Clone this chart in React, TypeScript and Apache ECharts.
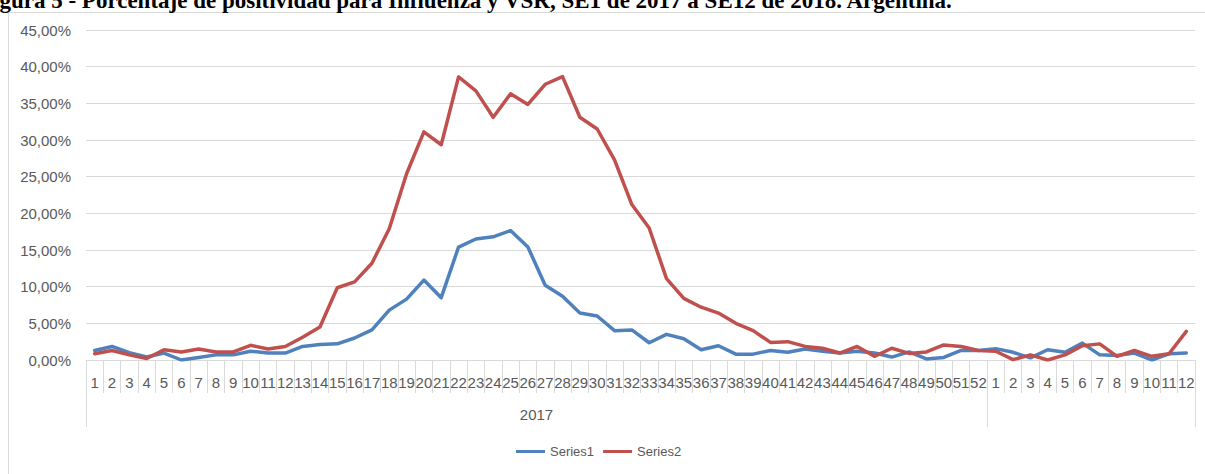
import React, { useEffect, useRef } from "react";
import * as echarts from "echarts";

const titleText =
  "Figura 5 - Porcentaje de positividad para Influenza y VSR, SE1 de 2017 a SE12 de 2018. Argentina.";

const weeks = [
  "1", "2", "3", "4", "5", "6", "7", "8", "9", "10", "11", "12", "13", "14", "15", "16", "17", "18", "19", "20",
  "21", "22", "23", "24", "25", "26", "27", "28", "29", "30", "31", "32", "33", "34", "35", "36", "37", "38", "39", "40",
  "41", "42", "43", "44", "45", "46", "47", "48", "49", "50", "51", "52",
  "1", "2", "3", "4", "5", "6", "7", "8", "9", "10", "11", "12",
];

const yearLabel = "2017";
const yearGroupBounds = [0, 52, 64];
const yearLabelPos = 26;

const series1 = [
  1.3, 1.85, 1.0, 0.4, 0.95, 0.0, 0.35, 0.7, 0.7, 1.2, 0.95, 0.95, 1.85, 2.1, 2.2, 3.0, 4.1, 6.8, 8.3, 10.9,
  8.5, 15.4, 16.5, 16.8, 17.65, 15.4, 10.2, 8.7, 6.4, 6.0, 4.0, 4.1, 2.35, 3.5, 2.9, 1.4, 1.95, 0.8, 0.8, 1.3,
  1.05, 1.5, 1.2, 0.95, 1.2, 0.95, 0.4, 1.1, 0.15, 0.35, 1.3, 1.3,
  1.55, 1.05, 0.3, 1.4, 1.05, 2.3, 0.7, 0.6, 0.95, 0.0, 0.85, 0.95,
];

const series2 = [
  0.85, 1.3, 0.7, 0.2, 1.4, 1.1, 1.5, 1.1, 1.1, 2.0, 1.5, 1.85, 3.1, 4.5, 9.85, 10.65, 13.2, 17.9, 25.4, 31.1,
  29.35, 38.6, 36.7, 33.1, 36.3, 34.85, 37.6, 38.65, 33.1, 31.5, 27.3, 21.2, 18.0, 11.1, 8.4, 7.2, 6.4, 5.0, 4.0, 2.4,
  2.5, 1.85, 1.6, 0.95, 1.85, 0.5, 1.6, 0.9, 1.1, 2.05, 1.85, 1.3,
  1.2, 0.05, 0.7, 0.0, 0.7, 1.95, 2.2, 0.5, 1.3, 0.5, 0.85, 3.9,
];

const seriesNames = ["Series1", "Series2"];
const colors = ["#4F81BD", "#C0504D"];

const FONT = "'Liberation Sans', Arial, sans-serif";

export default function App() {
  const ref = useRef<HTMLDivElement>(null);

  useEffect(() => {
    if (!ref.current) return;
    const chart = echarts.init(ref.current, null, { renderer: "svg" });
    const fmt = (v: number) => v.toFixed(2).replace(".", ",") + "%";
    chart.setOption({
      animation: false,
      backgroundColor: "#ffffff",
      textStyle: { fontFamily: FONT },
      graphic: [
        {
          type: "rect",
          shape: { x: 8.5, y: 12.5, width: 1300, height: 600 },
          style: { fill: "none", stroke: "#d9d9d9", lineWidth: 1 },
          silent: true,
          z: -1,
        },
        {
          type: "text",
          x: -21,
          y: 0,
          style: {
            text: titleText,
            font: "bold 23px 'Liberation Serif', 'Times New Roman', serif",
            fill: "#000000",
            verticalAlign: "middle",
            align: "left",
          },
        },
      ],
      grid: { left: 86, right: 10, top: 30, bottom: 114 },
      legend: {
        data: seriesNames,
        left: 516,
        top: 445,
        padding: 0,
        icon: "rect",
        itemWidth: 29,
        itemHeight: 3,
        itemGap: 9,
        textStyle: { color: "#595959", fontSize: 13, fontFamily: FONT },
      },
      xAxis: [
        {
          type: "category",
          data: weeks,
          boundaryGap: true,
          axisLine: { show: true, lineStyle: { color: "#d9d9d9", width: 1 } },
          axisTick: {
            show: true,
            interval: 0,
            length: 33,
            lineStyle: { color: "#d9d9d9", width: 1 },
          },
          axisLabel: {
            interval: 0,
            margin: 15,
            color: "#595959",
            fontSize: 15,
            fontFamily: FONT,
          },
          splitLine: { show: false },
        },
        {
          type: "value",
          min: 0,
          max: 64,
          position: "bottom",
          axisLine: { show: false },
          splitLine: { show: false },
          axisTick: {
            show: true,
            customValues: yearGroupBounds,
            length: 67,
            lineStyle: { color: "#d9d9d9", width: 1 },
          },
          axisLabel: {
            customValues: [yearLabelPos],
            formatter: () => yearLabel,
            margin: 47,
            color: "#595959",
            fontSize: 15,
            fontFamily: FONT,
          },
        },
      ],
      yAxis: {
        type: "value",
        min: 0,
        max: 45,
        interval: 5,
        axisLine: { show: false },
        axisTick: { show: false },
        splitLine: { lineStyle: { color: "#d9d9d9", width: 1 } },
        axisLabel: {
          formatter: fmt,
          margin: 15,
          color: "#595959",
          fontSize: 15,
          fontFamily: FONT,
        },
      },
      series: [
        {
          name: seriesNames[0],
          type: "line",
          data: series1,
          xAxisIndex: 0,
          symbol: "none",
          color: colors[0],
          lineStyle: { width: 3.5, color: colors[0], join: "round", cap: "round" },
        },
        {
          name: seriesNames[1],
          type: "line",
          data: series2,
          xAxisIndex: 0,
          symbol: "none",
          color: colors[1],
          lineStyle: { width: 3.5, color: colors[1], join: "round", cap: "round" },
        },
      ],
    });
    return () => chart.dispose();
  }, []);

  return (
    <div
      ref={ref}
      style={{ position: "fixed", left: 0, top: 0, width: 1205, height: 474 }}
    />
  );
}
